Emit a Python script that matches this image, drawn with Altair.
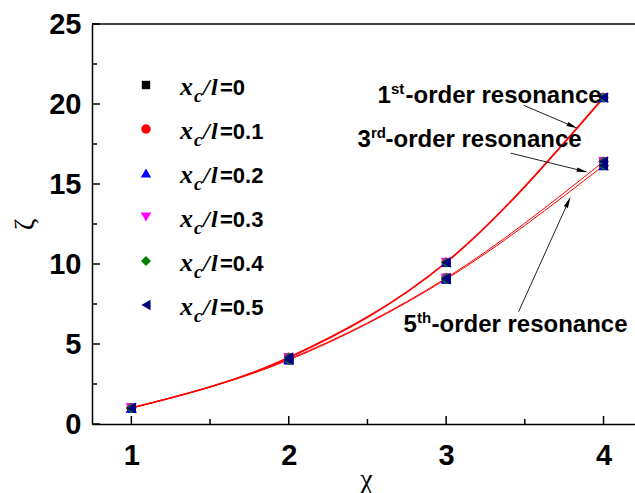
import math
import altair as alt
import pandas as pd

# ---------------- data ----------------
chi = [1, 2, 3, 4]
zeta_1st = [1.0, 4.15, 10.1, 20.4]
zeta_3rd = [1.0, 4.05, 9.12, 16.4]
zeta_5th = [1.0, 4.0, 9.05, 16.15]
orders = ["1st", "3rd", "5th"]
order_values = [zeta_1st, zeta_3rd, zeta_5th]
order_widths = [1.8, 1.0, 1.0]

xc_labels = ["0", "0.1", "0.2", "0.3", "0.4", "0.5"]
marker_shapes = ["square", "circle", "triangle-up", "triangle-down", "diamond", "triangle-left"]
marker_colors = ["#000000", "#ff0000", "#0000ff", "#ff00ff", "#008000", "#000080"]
marker_sizes = [70, 90, 110, 110, 100, 110]

x_major = [1, 2, 3, 4]
x_minor = [1.5, 2.5, 3.5]
y_major = [0, 5, 10, 15, 20, 25]
y_minor = [2.5, 7.5, 12.5, 17.5, 22.5]

# annotations
ann_digit = ["1", "3", "5"]
ann_sup = ["st", "rd", "th"]
ann_x = [2.564, 2.437, 2.729]
ann_y = [20.06, 17.31, 5.75]
arrow_x1 = [3.492, 3.409, 3.460]
arrow_y1 = [19.92, 16.93, 7.01]
arrow_x2 = [3.835, 3.899, 3.790]
arrow_y2 = [18.48, 15.74, 14.19]

# ---------------- layout ----------------
W, H = 543, 400
XD = [0.75, 4.2]
YD = [0, 25]
xs = alt.Scale(domain=XD, nice=False, zero=False)
ys = alt.Scale(domain=YD, nice=False, zero=False)
SANS = "Liberation Sans"
SERIF = "Liberation Serif"


def to_px(x, y):
    return ((x - XD[0]) / (XD[1] - XD[0]) * W, H - (y - YD[0]) / (YD[1] - YD[0]) * H)


def to_data(px, py):
    return (XD[0] + px / W * (XD[1] - XD[0]), YD[0] + (H - py) / H * (YD[1] - YD[0]))


xaxis = alt.Axis(values=x_major, format="d", title="χ", labelFont=SANS, labelFontWeight="bold",
                 labelFontSize=29, labelColor="black", labelBaseline="alphabetic", labelPadding=40,
                 labelFlush=False, ticks=False, tickSize=0, grid=False, domainColor="black",
                 domainWidth=1.5, titleFont=SERIF, titleFontSize=28, titleFontWeight="normal",
                 titleColor="black", titleBaseline="alphabetic", titleY=63, titleX=274,
                 titleAlign="center")
yaxis = alt.Axis(values=y_major, format="d", title="ζ", labelFont=SANS, labelFontWeight="bold",
                 labelFontSize=29, labelColor="black", labelAlign="right", labelBaseline="middle",
                 labelPadding=11, labelFlush=False, ticks=False, tickSize=0, grid=False,
                 domainColor="black", domainWidth=1.5, titleFont=SERIF, titleFontSize=28,
                 titleFontWeight="normal", titleColor="black", titleAngle=270, titleX=-67,
                 titleY=200, titleAlign="center", titleBaseline="middle")


def X(field):
    return alt.X(field, scale=xs, axis=xaxis)


def Y(field):
    return alt.Y(field, scale=ys, axis=yaxis)


layers = []

# curves
for name, vals, w in zip(orders, order_values, order_widths):
    df = pd.DataFrame({"chi": chi, "zeta": vals})
    layers.append(
        alt.Chart(df).mark_line(color="#ff0000", strokeWidth=w, interpolate="monotone").encode(
            x=X("chi:Q"), y=Y("zeta:Q"))
    )

# markers (one layer per x_c/l so the draw order is fixed)
for xc, shp, col, sz in zip(xc_labels, marker_shapes, marker_colors, marker_sizes):
    rows = []
    for name, vals in zip(orders, order_values):
        for c, z in zip(chi, vals):
            rows.append({"chi": c, "zeta": z, "order": name})
    layers.append(
        alt.Chart(pd.DataFrame(rows)).mark_point(shape=shp, filled=True, size=sz, color=col,
                                                 opacity=1).encode(x=X("chi:Q"), y=Y("zeta:Q"))
    )

# inward ticks
layers.append(alt.Chart(pd.DataFrame({"v": y_major})).mark_rule(color="black", strokeWidth=1.5).encode(
    y=Y("v:Q"), x=alt.value(0), x2=alt.value(8)))
layers.append(alt.Chart(pd.DataFrame({"v": y_minor})).mark_rule(color="black", strokeWidth=1.5).encode(
    y=Y("v:Q"), x=alt.value(0), x2=alt.value(5)))
layers.append(alt.Chart(pd.DataFrame({"v": x_major})).mark_rule(color="black", strokeWidth=1.5).encode(
    x=X("v:Q"), y=alt.value(H), y2=alt.value(H - 8)))
layers.append(alt.Chart(pd.DataFrame({"v": x_minor})).mark_rule(color="black", strokeWidth=1.5).encode(
    x=X("v:Q"), y=alt.value(H), y2=alt.value(H - 5)))

# top frame line
layers.append(alt.Chart(pd.DataFrame({"a": [0]})).mark_rule(color="black", strokeWidth=1.5).encode(
    x=alt.value(0), x2=alt.value(W), y=alt.value(0)))

# annotation texts
for d, s, ax, ay in zip(ann_digit, ann_sup, ann_x, ann_y):
    one = pd.DataFrame({"x": [ax], "y": [ay]})
    pieces = [(d, 0, 0, 24), (s, 13.5, -9, 15), ("-order resonance", 28, 0, 24)]
    for txt, dx, dy, fs in pieces:
        layers.append(alt.Chart(one).mark_text(text=txt, font=SANS, fontWeight="bold", fontSize=fs,
                                               align="left", baseline="alphabetic", dx=dx, dy=dy,
                                               color="black").encode(x=X("x:Q"), y=Y("y:Q")))

# arrows
head_len = 11
for x1, y1, x2, y2 in zip(arrow_x1, arrow_y1, arrow_x2, arrow_y2):
    p1 = to_px(x1, y1)
    p2 = to_px(x2, y2)
    dxp, dyp = p2[0] - p1[0], p2[1] - p1[1]
    L = math.hypot(dxp, dyp)
    ux, uy = dxp / L, dyp / L
    cx, cy = to_data(p2[0] - ux * head_len / 2, p2[1] - uy * head_len / 2)
    lx, ly = to_data(p2[0] - ux * head_len * 0.6, p2[1] - uy * head_len * 0.6)
    ang = math.degrees(math.atan2(dxp, -dyp)) % 360
    seg = pd.DataFrame({"x": [x1], "y": [y1], "x2": [lx], "y2": [ly]})
    layers.append(alt.Chart(seg).mark_rule(color="#222222", strokeWidth=1).encode(
        x=X("x:Q"), y=Y("y:Q"), x2="x2:Q", y2="y2:Q"))
    head = pd.DataFrame({"x": [cx], "y": [cy]})
    layers.append(alt.Chart(head).mark_point(shape="M0,-1L0.4,1L-0.4,1Z", filled=True, size=head_len ** 2,
                                             color="black", opacity=1, angle=ang).encode(
        x=X("x:Q"), y=Y("y:Q")))

# custom legend (pixel layout inside the plot area)
leg_sym_x = 54
leg_row0 = 61
leg_step = 44
for i, (lab, shp, col, sz) in enumerate(zip(xc_labels, marker_shapes, marker_colors, marker_sizes)):
    ry = leg_row0 + leg_step * i
    one = pd.DataFrame({"a": [0]})
    layers.append(alt.Chart(one).mark_point(shape=shp, filled=True, size=sz, color=col, opacity=1).encode(
        x=alt.value(leg_sym_x), y=alt.value(ry)))
    base = ry + 10
    parts = [
        ("x", 88, 0, SERIF, "italic", 26),
        ("c", 102, 7, SERIF, "italic", 19),
        ("/", 111, 0, SERIF, "italic", 24),
        ("l", 119, 0, SERIF, "italic", 24),
        ("=" + lab, 128, 0, SANS, "normal", 22),
    ]
    for txt, px, dy, font, style, fs in parts:
        layers.append(alt.Chart(one).mark_text(text=txt, font=font, fontStyle=style, fontWeight="bold",
                                               fontSize=fs, align="left", baseline="alphabetic",
                                               color="black").encode(
            x=alt.value(px), y=alt.value(base + dy)))

chart = alt.layer(*layers).properties(
    width=W, height=H,
    autosize=alt.AutoSizeParams(type="none"),
    padding={"left": 92, "top": 24, "right": 0, "bottom": 69},
    background="white",
).configure_view(stroke=None)

chart.save("out.html", embed_options={"renderer": "svg", "actions": False})
